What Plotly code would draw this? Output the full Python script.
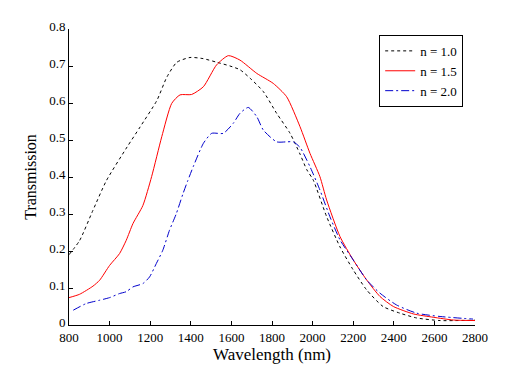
import plotly.graph_objects as go

# n = 1.0
x_n10 = [800, 852, 918, 984, 1086, 1150, 1233, 1282, 1331, 1396, 1460, 1529, 1593, 1642,
         1692, 1757, 1823, 1889, 1938, 1971, 2003, 2069, 2135, 2200, 2266, 2347, 2430,
         2513, 2628, 2800]
y_n10 = [0.19, 0.228, 0.31, 0.39, 0.481, 0.535, 0.607, 0.67, 0.71, 0.723, 0.72, 0.71, 0.70,
         0.69, 0.667, 0.631, 0.572, 0.518, 0.462, 0.42, 0.392, 0.293, 0.211, 0.149, 0.095,
         0.05, 0.032, 0.019, 0.012, 0.013]

# n = 1.5
x_n15 = [800, 852, 918, 951, 1000, 1049, 1082, 1115, 1164, 1207, 1257, 1306, 1347, 1404,
         1462, 1527, 1585, 1642, 1725, 1806, 1872, 1938, 1987, 2036, 2069, 2135, 2200,
         2266, 2332, 2398, 2496, 2594, 2693, 2800]
y_n15 = [0.074, 0.083, 0.105, 0.121, 0.161, 0.193, 0.229, 0.274, 0.323, 0.401, 0.509, 0.599,
         0.622, 0.623, 0.644, 0.703, 0.728, 0.716, 0.680, 0.653, 0.617, 0.536, 0.464, 0.401,
         0.338, 0.239, 0.176, 0.122, 0.077, 0.05, 0.030, 0.021, 0.0135, 0.012]

# n = 2.0
x_n20 = [821, 885, 951, 1000, 1049, 1082, 1115, 1164, 1197, 1230, 1262, 1295, 1328, 1361,
         1385, 1412, 1462, 1503, 1560, 1609, 1642, 1683, 1725, 1757, 1823, 1872, 1905,
         1938, 1987, 2036, 2085, 2135, 2200, 2266, 2332, 2414, 2513, 2628, 2790]
y_n20 = [0.040, 0.058, 0.067, 0.074, 0.085, 0.09, 0.103, 0.112, 0.13, 0.166, 0.202, 0.256,
         0.30, 0.354, 0.39, 0.428, 0.491, 0.518, 0.518, 0.545, 0.572, 0.588, 0.563, 0.527,
         0.495, 0.495, 0.495, 0.48, 0.428, 0.365, 0.293, 0.23, 0.176, 0.122, 0.086, 0.054,
         0.032, 0.023, 0.016]

x_ticks = [800, 1000, 1200, 1400, 1600, 1800, 2000, 2200, 2400, 2600, 2800]
y_ticks = [0, 0.1, 0.2, 0.3, 0.4, 0.5, 0.6, 0.7, 0.8]
y_tick_labels = ["0", "0.1", "0.2", "0.3", "0.4", "0.5", "0.6", "0.7", "0.8"]

FONT = "Liberation Serif"

fig = go.Figure()
fig.add_trace(go.Scatter(x=x_n10, y=y_n10, mode="lines", name="n = 1.0",
                         line=dict(color="black", width=1, dash="3px,3px", shape="spline",
                                   smoothing=0.6)))
fig.add_trace(go.Scatter(x=x_n15, y=y_n15, mode="lines", name="n = 1.5",
                         line=dict(color="#ff0000", width=1, shape="spline", smoothing=0.6)))
fig.add_trace(go.Scatter(x=x_n20, y=y_n20, mode="lines", name="n = 2.0",
                         line=dict(color="#0000cc", width=1, dash="8px,3px,2px,3px",
                                   shape="spline", smoothing=0.6)))

# page body adds an 8px margin, so the figure is sized to fit the window
fig.update_layout(
    width=519, height=359,
    margin=dict(l=61, r=52, t=21, b=42, autoexpand=False),
    paper_bgcolor="white", plot_bgcolor="white",
    font=dict(family=FONT, size=13, color="black"),
    showlegend=True,
    legend=dict(x=0.764, y=0.98, xanchor="left", yanchor="top",
                bordercolor="black", borderwidth=1, bgcolor="white",
                font=dict(family=FONT, size=13), tracegroupgap=0,
                itemwidth=30),
    xaxis=dict(range=[800, 2800], tickvals=x_ticks, showline=True, linecolor="black",
               linewidth=1, ticks="inside", ticklen=4, tickcolor="black", showgrid=False,
               zeroline=False, mirror=False, automargin=False,
               tickfont=dict(family=FONT, size=13),
               title=dict(text="Wavelength (nm)", font=dict(family=FONT, size=17), standoff=0)),
    yaxis=dict(range=[0, 0.8], tickvals=y_ticks, ticktext=y_tick_labels, showline=True,
               linecolor="black", linewidth=1, ticks="inside", ticklen=4, tickcolor="black",
               showgrid=False, zeroline=False, mirror=False, automargin=False,
               ticklabelshift=-3, tickfont=dict(family=FONT, size=13),
               title=dict(text="Transmission", font=dict(family=FONT, size=16), standoff=8)),
)

fig.write_html("out.html")
